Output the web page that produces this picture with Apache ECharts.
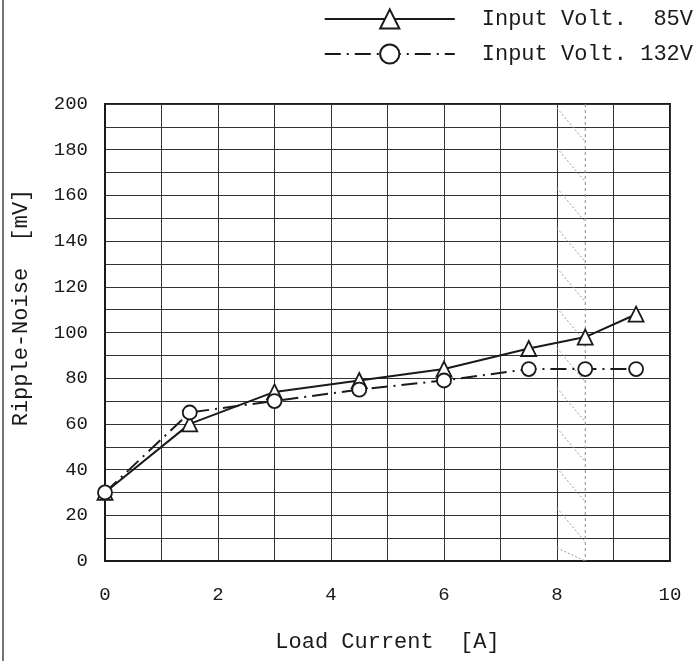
<!DOCTYPE html>
<html>
<head>
<meta charset="utf-8">
<script src="https://cdn.jsdelivr.net/npm/echarts@6/dist/echarts.min.js"></script>
<style>
html, body { margin: 0; background: #fff; }
#chart { width: 696px; height: 661px; }
</style>
</head>
<body>
<div id="chart"></div>
<script>
// load current [A] and ripple-noise [mV]
var loadCurrent = [0, 1.5, 3, 4.5, 6, 7.5, 8.5, 9.4];
var ripple85 = [30, 60, 74, 79, 84, 93, 98, 108];
var ripple132 = [30, 65, 70, 75, 79, 84, 84, 84];
var seriesNames = ['Input Volt.  85V', 'Input Volt. 132V'];
var xRange = [0, 10];
var yRange = [0, 200];
// shaded (hatched) band on the current axis
var hatchBand = [8, 8.5];

function pairs(xs, ys) {
    return xs.map(function (x, i) { return [x, ys[i]]; });
}

var ink = '#1a1a1a';
var font = 'Liberation Mono';

var chart = echarts.init(document.getElementById('chart'));

var option = {
    backgroundColor: '#fff',
    animation: false,
    grid: {
        left: 105,
        right: 26,
        top: 104,
        bottom: 100,
        show: true,
        borderColor: ink,
        borderWidth: 2
    },
    legend: {
        orient: 'vertical',
        right: -2,
        top: 3,
        itemWidth: 130,
        itemHeight: 24,
        itemGap: 13,
        data: seriesNames,
        textStyle: {
            fontFamily: font,
            fontSize: 22,
            color: ink,
            padding: [0, 0, 0, 22]
        }
    },
    xAxis: {
        type: 'value',
        min: xRange[0],
        max: xRange[1],
        interval: 2,
        name: 'Load Current  [A]',
        nameLocation: 'middle',
        nameGap: 70,
        nameTextStyle: { fontFamily: font, fontSize: 22, color: ink },
        axisLine: { show: true, lineStyle: { color: ink, width: 2 } },
        axisTick: { show: false },
        axisLabel: { margin: 24, fontFamily: font, fontSize: 19, color: ink },
        splitLine: { show: true, lineStyle: { color: '#333', width: 1 } },
        minorTick: { show: false, splitNumber: 2 },
        minorSplitLine: { show: true, lineStyle: { color: '#333', width: 1 } }
    },
    yAxis: {
        type: 'value',
        min: yRange[0],
        max: yRange[1],
        interval: 20,
        name: 'Ripple-Noise  [mV]',
        nameLocation: 'middle',
        nameGap: 73,
        nameTextStyle: { fontFamily: font, fontSize: 22, color: ink, padding: [0, 0, 0, 50] },
        axisLine: { show: true, lineStyle: { color: ink, width: 2 } },
        axisTick: { show: false },
        axisLabel: { margin: 17, fontFamily: font, fontSize: 19, color: ink },
        splitLine: { show: true, lineStyle: { color: '#333', width: 1 } },
        minorTick: { show: false, splitNumber: 2 },
        minorSplitLine: { show: true, lineStyle: { color: '#333', width: 1 } }
    },
    series: [
        {
            name: 'hatch',
            type: 'custom',
            silent: true,
            z: 1,
            data: [hatchBand],
            renderItem: function (params, api) {
                var tl = api.coord([api.value(0), yRange[1]]);
                var br = api.coord([api.value(1), yRange[0]]);
                var step = 40;
                var kids = [];
                for (var y = tl[1] + 4; y < br[1]; y += step) {
                    kids.push({
                        type: 'line',
                        shape: { x1: tl[0], y1: y, x2: br[0], y2: Math.min(y + step - 6, br[1]) },
                        style: { stroke: '#9a9a9a', lineWidth: 1, lineDash: [2, 2] }
                    });
                }
                kids.push({
                    type: 'line',
                    shape: { x1: br[0], y1: tl[1], x2: br[0], y2: br[1] },
                    style: { stroke: '#8a8a8a', lineWidth: 1, lineDash: [3, 3] }
                });
                return { type: 'group', children: kids };
            }
        },
        {
            name: seriesNames[0],
            type: 'line',
            z: 3,
            data: pairs(loadCurrent, ripple85),
            symbol: 'triangle',
            symbolSize: 15,
            lineStyle: { color: ink, width: 2, type: 'solid' },
            itemStyle: { color: '#fff', borderColor: ink, borderWidth: 1.8 }
        },
        {
            name: seriesNames[1],
            type: 'line',
            z: 3,
            data: pairs(loadCurrent, ripple132),
            symbol: 'circle',
            symbolSize: 14,
            lineStyle: { color: ink, width: 2, type: [16, 6, 2, 6] },
            itemStyle: { color: '#fff', borderColor: ink, borderWidth: 1.8 }
        }
    ],
    graphic: [
        {
            type: 'line',
            shape: { x1: 3, y1: 0, x2: 3, y2: 661 },
            style: { stroke: '#444', lineWidth: 1.5 }
        }
    ]
};

chart.setOption(option);
</script>
</body>
</html>
